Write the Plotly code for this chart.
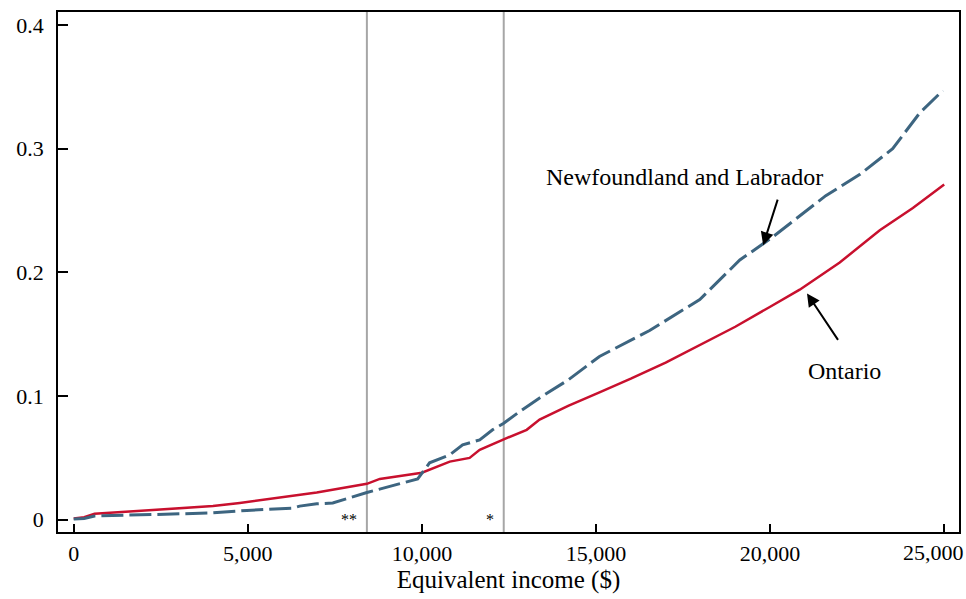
import plotly.graph_objects as go

# Equivalent income ($) and cumulative proportion for each province
on_income = [0, 300, 600, 2000, 4000, 4770, 6000, 6980, 8420, 8790, 10000, 10800,
             11370, 11660, 12350, 13010, 13380, 14200, 15100, 16000, 17000, 17980,
             19000, 19990, 20850, 22000, 23150, 24100, 25000]
on_share = [0.001, 0.002, 0.0048, 0.0075, 0.011, 0.0135, 0.018, 0.022, 0.029, 0.033,
            0.038, 0.047, 0.050, 0.0565, 0.065, 0.0727, 0.081, 0.092, 0.103, 0.114,
            0.127, 0.141, 0.156, 0.172, 0.186, 0.208, 0.234, 0.252, 0.271]

nl_income = [0, 300, 600, 1980, 3900, 4970, 6290, 6490, 6980, 7440, 8420, 9880,
             10220, 10800, 11170, 11660, 12030, 12350, 12810, 13380, 14200, 15100,
             16540, 17980, 19130, 20000, 20850, 21600, 22570, 23520, 24300, 24960]
nl_share = [0.0005, 0.001, 0.003, 0.004, 0.0054, 0.0075, 0.0094, 0.011, 0.0129, 0.0135,
            0.022, 0.033, 0.046, 0.0525, 0.0605, 0.0646, 0.0727, 0.078, 0.0875, 0.0985,
            0.113, 0.132, 0.153, 0.178, 0.21, 0.227, 0.246, 0.262, 0.279, 0.300,
            0.329, 0.347]

# Income cutoffs marked by vertical rules, with their significance markers
cutoffs = [8420, 12350]
cutoff_marks = ["**", "*"]

x_ticks = [0, 5000, 10000, 15000, 20000, 25000]
x_tick_labels = ["0", "5,000", "10,000", "15,000", "20,000", "25,000"]
y_ticks = [0, 0.1, 0.2, 0.3, 0.4]
y_tick_labels = ["0", "0.1", "0.2", "0.3", "0.4"]

FONT = "Liberation Serif, Times New Roman, serif"

fig = go.Figure()
fig.add_trace(go.Scatter(x=on_income, y=on_share, mode="lines", name="Ontario",
                         line=dict(color="#c8102e", width=2.5)))
fig.add_trace(go.Scatter(x=nl_income, y=nl_share, mode="lines",
                         name="Newfoundland and Labrador",
                         line=dict(color="#3d6580", width=3, dash="22px,6px")))

for c, m in zip(cutoffs, cutoff_marks):
    fig.add_shape(type="line", xref="x", yref="paper", x0=c, x1=c, y0=0, y1=1,
                  line=dict(color="#a6a6a6", width=2), layer="below")
    fig.add_annotation(x=c, y=0, xref="x", yref="y", text=m, showarrow=False,
                       xanchor="right", xshift=-8, yanchor="middle",
                       font=dict(family=FONT, size=16, color="black"))

fig.add_annotation(x=19800, y=0.222, ax=755 - 740, ay=197 - 244, axref="pixel", ayref="pixel",
                   text="", showarrow=True, arrowhead=2, arrowsize=1.3, arrowwidth=2,
                   arrowcolor="black")
fig.add_annotation(x=17547, y=0.277, text="Newfoundland and Labrador", showarrow=False,
                   font=dict(family=FONT, size=24, color="black"))

fig.add_annotation(x=21060, y=0.183, ax=838 - 806, ay=343 - 295, axref="pixel", ayref="pixel",
                   text="", showarrow=True, arrowhead=2, arrowsize=1.3, arrowwidth=2,
                   arrowcolor="black")
fig.add_annotation(x=22142, y=0.1203, text="Ontario", showarrow=False,
                   font=dict(family=FONT, size=24, color="black"))

# The last tick label sits flush against the right edge of the figure
shown_labels = x_tick_labels[:-1] + [""]
fig.add_annotation(x=x_ticks[-1], y=0, xref="x", yref="paper", text=x_tick_labels[-1],
                   showarrow=False, xanchor="right", yanchor="top", xshift=22, yshift=-6,
                   font=dict(family=FONT, size=22, color="black"))

fig.update_layout(
    width=966, height=599,
    margin=dict(l=58, r=7, t=12, b=67),
    paper_bgcolor="white", plot_bgcolor="white",
    showlegend=False,
    font=dict(family=FONT, size=22, color="black"),
)
fig.update_xaxes(range=[-451, 25425], tickvals=x_ticks, ticktext=shown_labels,
                 ticks="inside", ticklen=8, tickwidth=1.5, tickcolor="black",
                 showline=True, linecolor="black", linewidth=1.5, mirror=True,
                 showgrid=False, zeroline=False,
                 ticklabelstandoff=1, automargin=False,
                 title=dict(text="Equivalent income ($)", font=dict(size=25), standoff=4),
                 tickfont=dict(size=22))
fig.update_yaxes(range=[-0.00993, 0.4105], tickvals=y_ticks, ticktext=y_tick_labels,
                 ticks="inside", ticklen=10, tickwidth=1.5, tickcolor="black",
                 showline=True, linecolor="black", linewidth=1.5, mirror=True,
                 showgrid=False, zeroline=False, tickfont=dict(size=22),
                 ticklabelstandoff=8, automargin=False)

fig.write_html("out.html")
